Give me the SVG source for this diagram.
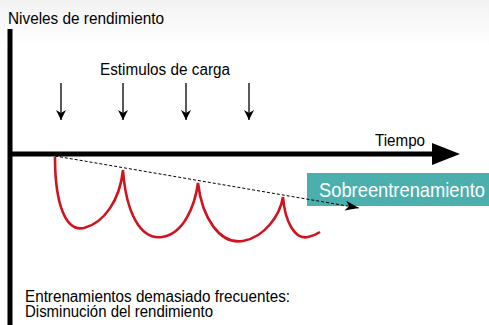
<svg xmlns="http://www.w3.org/2000/svg" width="489" height="325" viewBox="0 0 489 325">
  <defs>
    <linearGradient id="bg" x1="0" y1="0" x2="0" y2="1">
      <stop offset="0" stop-color="#f2f2f2"/>
      <stop offset="1" stop-color="#ffffff"/>
    </linearGradient>
    <marker id="ah" viewBox="0 0 10 10" refX="10" refY="5" markerWidth="10" markerHeight="10" markerUnits="userSpaceOnUse" orient="auto">
      <path d="M0,0 L10,5 L0,10 L3,5 Z" fill="#000"/>
    </marker>
    <marker id="ahd" viewBox="0 0 14 10" refX="14" refY="5" markerWidth="14" markerHeight="10" markerUnits="userSpaceOnUse" orient="auto">
      <path d="M0,0 L14,5 L0,10 L4,5 Z" fill="#000"/>
    </marker>
  </defs>
  <style>
    text { font-family: "Liberation Sans", Arial, sans-serif; fill: #000; }
    .lbl { font-size: 16px; }
    .stim { stroke: #000; stroke-width: 1.3; fill: none; marker-end: url(#ah); }
  </style>
  <rect x="0" y="0" width="489" height="45" fill="url(#bg)"/>

  <g id="axes">
    <line x1="10" y1="29" x2="10" y2="325" stroke="#000" stroke-width="5"/>
    <line x1="8" y1="154" x2="434" y2="154" stroke="#000" stroke-width="5"/>
    <polygon points="432,143 460,154 432,165" fill="#000"/>
  </g>

  <g id="labels">
    <text class="lbl" x="8" y="24" textLength="156" lengthAdjust="spacingAndGlyphs">Niveles de rendimiento</text>
    <text class="lbl" x="100" y="75" textLength="130" lengthAdjust="spacingAndGlyphs">Estimulos de carga</text>
    <text class="lbl" x="375" y="146" textLength="50" lengthAdjust="spacingAndGlyphs">Tiempo</text>
    <text class="lbl" x="25" y="302" textLength="265" lengthAdjust="spacingAndGlyphs">Entrenamientos demasiado frecuentes:</text>
    <text class="lbl" x="25" y="317" textLength="188" lengthAdjust="spacingAndGlyphs">Disminución del rendimiento</text>
  </g>

  <g id="connectors">
    <line class="stim" x1="61" y1="83" x2="61" y2="120"/>
    <line class="stim" x1="123" y1="83" x2="123" y2="120"/>
    <line class="stim" x1="186" y1="83" x2="186" y2="120"/>
    <line class="stim" x1="249" y1="83" x2="249" y2="120"/>
  </g>

  <g id="sobreentrenamiento">
    <rect x="307" y="173" width="182" height="33" fill="#4bafad"/>
    <text x="319" y="197" font-size="21" textLength="166" lengthAdjust="spacingAndGlyphs" style="fill:#ffffff">Sobreentrenamiento</text>
  </g>

  <g id="trend">
    <line x1="55" y1="156" x2="359" y2="208" stroke="#000" stroke-width="1" stroke-dasharray="3,2" marker-end="url(#ahd)"/>
  </g>

  <g id="performance">
    <path d="M55,157 C55,205 66,232 84,228 C104,223 120,200 123,170 C126,212 140,240 162,237 C184,234 195,205 198,183 C202,218 220,245 243,241 C265,237 280,215 283,197 C285,222 295,240 308,237 C313,236 317,234 320,232" fill="none" stroke="#d0141e" stroke-width="2.6" stroke-linejoin="miter"/>
  </g>
</svg>
